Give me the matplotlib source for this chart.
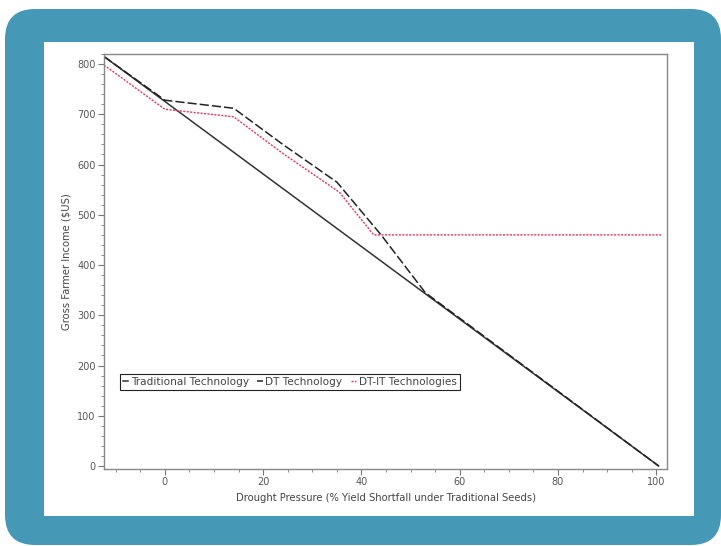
import matplotlib
matplotlib.use('Agg')
import matplotlib.pyplot as plt
from matplotlib.patches import FancyBboxPatch, Rectangle
from matplotlib.ticker import MultipleLocator

# drought pressure (% yield shortfall) and gross income ($US)
TradX = [-12.4, 100.5]
TradY = [815, 0]
DtX = [-12.4, 0, 14, 24, 35, 44, 53, 100.5]
DtY = [815, 728, 712, 640, 565, 460, 345, 0]
DtItX = [-12.4, 0, 14, 24, 35.5, 42.5, 101]
DtItY = [798, 710, 695, 622, 545, 460, 460]

Teal = '#4699b6'

fig = plt.figure(figsize=(7.21, 5.46), dpi=100)

# background frame drawn in pixel space
bg = fig.add_axes([0, 0, 1, 1])
bg.set_xlim(0, 721)
bg.set_ylim(546, 0)
bg.axis('off')
bg.add_patch(FancyBboxPatch((5, 9), 716, 536, boxstyle='round,pad=0,rounding_size=30',
                            facecolor=Teal, edgecolor='none'))
bg.add_patch(Rectangle((44, 42), 650, 474, facecolor='white', edgecolor='none'))

ax = fig.add_axes([104/721, 1-469/546, (667-104)/721, (469-54)/546])
ax.plot(TradX, TradY, color='#333333', lw=1.1, label='Traditional Technology')
ax.plot(DtX, DtY, color='#222222', lw=1.1, ls=(0, (6, 2)), label='DT Technology')
ax.plot(DtItX, DtItY, color='#e8335f', lw=1.0, ls=(0, (1.5, 1)), label='DT-IT Technologies')

ax.set_xlim(-12.4, 102.2)
ax.set_ylim(-6, 820)
ax.xaxis.set_major_locator(MultipleLocator(20))
ax.xaxis.set_minor_locator(MultipleLocator(5))
ax.yaxis.set_major_locator(MultipleLocator(100))
ax.yaxis.set_minor_locator(MultipleLocator(20))
ax.tick_params(which='major', direction='out', length=4, width=0.8, color='#777777',
               labelsize=7, labelcolor='#555555', pad=2)
ax.tick_params(which='minor', direction='out', length=2, width=0.6, color='#777777')
for s in ax.spines.values():
    s.set_color('#888888')
    s.set_linewidth(1.0)

ax.set_xlabel('Drought Pressure (% Yield Shortfall under Traditional Seeds)', fontsize=7.2,
              color='#444444', labelpad=4)
ax.set_ylabel('Gross Farmer Income ($US)', fontsize=7.2, color='#444444', labelpad=4)

leg = ax.legend(loc='lower left', bbox_to_anchor=(0.028, 0.19), ncol=3, fontsize=7.6,
                handlelength=0.5, handletextpad=0.25, columnspacing=0.8, borderpad=0.3,
                borderaxespad=0, fancybox=False, framealpha=1)
leg.get_frame().set_edgecolor('#222222')
leg.get_frame().set_linewidth(0.8)
for t in leg.get_texts():
    t.set_color('#444444')

plt.savefig('out.png', dpi=100)
